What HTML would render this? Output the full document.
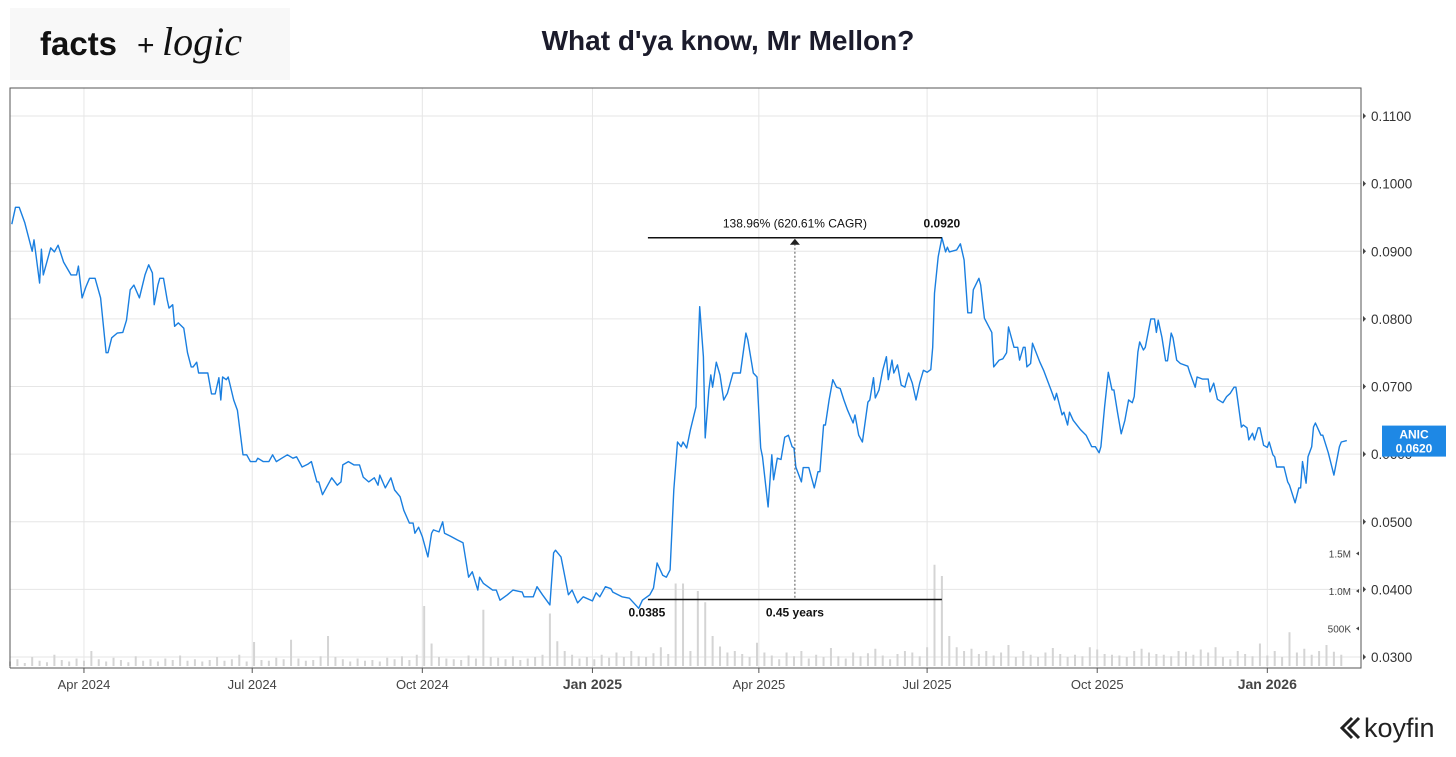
<!DOCTYPE html>
<html><head><meta charset="utf-8"><style>
body{margin:0;background:#fff;width:1456px;height:752px;overflow:hidden;font-family:"Liberation Sans",sans-serif;}
</style></head><body>
<svg id="chart" width="1456" height="752" xmlns="http://www.w3.org/2000/svg" font-family="Liberation Sans, sans-serif">
<rect x="10" y="8" width="280" height="72" fill="#f8f8f8"/>
<text x="40" y="55" font-family="Liberation Sans, sans-serif" font-weight="bold" font-size="33" fill="#111">facts</text>
<text x="137" y="55" font-family="Liberation Sans, sans-serif" font-size="30" fill="#111">+</text>
<text x="162" y="55" font-family="Liberation Serif, serif" font-style="italic" font-size="40" fill="#111">logic</text>
<text x="728" y="50" text-anchor="middle" font-weight="bold" font-size="28" fill="#1b1b2b">What d'ya know, Mr Mellon?</text>
<g id="grid"></g><g id="vol"></g><g id="price"></g><g id="annot"></g><g id="axes"></g>
<g>
<path d="M1352 718 l-10 10 l10 10 M1359 718 l-10 10 l10 10" stroke="#222" stroke-width="3" fill="none"/>
<text x="1364" y="737" font-size="27" fill="#222">koyfin</text></g>
</svg>
<script>
const days=[1,3,5,8,12,13,16,17,18,22,24,26,29,33,36,37,39,41,43,46,49,52,53,55,58,61,63,65,67,70,73,75,77,78,80,81,83,85,86,88,89,91,94,96,98,99,101,102,107,109,111,113,114,115,117,118,121,123,126,128,130,133,134,137,140,142,144,147,150,153,155,158,161,163,166,167,169,174,177,179,180,183,186,189,191,194,197,199,200,203,206,208,211,213,216,218,219,221,223,226,228,229,232,234,235,238,242,245,248,250,253,254,256,261,263,265,269,272,277,278,283,285,288,292,294,295,298,302,304,307,310,315,317,319,322,325,326,331,335,337,340,342,346,348,350,353,355,357,359,361,363,364,366,368,371,373,375,376,378,379,380,382,384,386,388,391,395,398,399,402,404,406,407,410,412,413,415,417,419,421,423,424,425,428,429,432,435,437,438,440,441,443,445,447,449,451,453,456,457,459,461,464,465,467,468,470,472,474,475,477,478,480,482,484,486,488,490,492,494,496,498,499,500,502,504,506,507,508,512,514,516,518,520,521,524,525,527,531,532,535,537,539,540,543,545,546,548,549,550,552,553,557,559,563,565,566,569,570,572,573,575,579,582,585,587,589,590,592,594,596,597,599,601,603,605,607,608,610,611,613,614,617,619,620,621,623,625,626,628,629,631,633,637,638,641,642,645,648,649,651,653,656,658,660,662,663,664,666,667,669,670,672,673,675,676,678,680,681,683,684,685,687,689,691,692,695,697,698,699,701,702,704,705,706,709,710,713,716,719,720,723];
const prices=[0.0940,0.0965,0.0965,0.0942,0.0900,0.0917,0.0853,0.0903,0.0865,0.0905,0.0899,0.0909,0.0884,0.0865,0.0865,0.0878,0.0831,0.0847,0.0860,0.0860,0.0831,0.0750,0.0750,0.0772,0.0779,0.0780,0.0798,0.0843,0.0850,0.0831,0.0865,0.0880,0.0868,0.0821,0.0850,0.0860,0.0860,0.0828,0.0816,0.0821,0.0789,0.0794,0.0786,0.0750,0.0729,0.0729,0.0736,0.0720,0.0720,0.0689,0.0689,0.0713,0.0680,0.0714,0.0710,0.0714,0.0680,0.0665,0.0599,0.0599,0.0589,0.0589,0.0594,0.0589,0.0589,0.0599,0.0589,0.0594,0.0599,0.0594,0.0596,0.0581,0.0585,0.0589,0.0559,0.0559,0.0540,0.0565,0.0554,0.0559,0.0584,0.0589,0.0584,0.0584,0.0566,0.0559,0.0565,0.0554,0.0569,0.0550,0.0565,0.0547,0.0537,0.0517,0.0498,0.0498,0.0483,0.0492,0.0478,0.0448,0.0483,0.0488,0.0485,0.0500,0.0483,0.0479,0.0473,0.0469,0.0418,0.0426,0.0399,0.0418,0.0409,0.0399,0.0399,0.0384,0.0392,0.0399,0.0396,0.0389,0.0389,0.0404,0.0392,0.0377,0.0454,0.0458,0.0448,0.0392,0.0399,0.0380,0.0389,0.0383,0.0395,0.0389,0.0404,0.0401,0.0396,0.0389,0.0387,0.0381,0.0372,0.0384,0.0392,0.0402,0.0439,0.0421,0.0418,0.0429,0.0547,0.0618,0.0611,0.0618,0.0609,0.0636,0.0670,0.0818,0.0744,0.0624,0.0695,0.0717,0.0699,0.0736,0.0717,0.0680,0.0690,0.0720,0.0720,0.0779,0.0769,0.0720,0.0714,0.0609,0.0596,0.0522,0.0599,0.0562,0.0594,0.0592,0.0625,0.0628,0.0611,0.0609,0.0581,0.0559,0.0580,0.0580,0.0550,0.0574,0.0574,0.0643,0.0643,0.0680,0.0710,0.0699,0.0697,0.0680,0.0665,0.0646,0.0658,0.0628,0.0618,0.0677,0.0680,0.0713,0.0683,0.0695,0.0724,0.0744,0.0710,0.0739,0.0720,0.0732,0.0702,0.0699,0.0720,0.0705,0.0680,0.0705,0.0724,0.0721,0.0725,0.0758,0.0838,0.0892,0.0920,0.0899,0.0906,0.0899,0.0902,0.0911,0.0887,0.0809,0.0809,0.0843,0.0860,0.0850,0.0801,0.0780,0.0729,0.0739,0.0741,0.0750,0.0788,0.0758,0.0758,0.0739,0.0758,0.0758,0.0729,0.0734,0.0764,0.0736,0.0724,0.0695,0.0680,0.0690,0.0658,0.0662,0.0643,0.0662,0.0650,0.0636,0.0628,0.0611,0.0611,0.0602,0.0611,0.0670,0.0721,0.0695,0.0695,0.0661,0.0630,0.0650,0.0680,0.0676,0.0685,0.0751,0.0766,0.0754,0.0758,0.0800,0.0800,0.0780,0.0798,0.0773,0.0738,0.0738,0.0779,0.0772,0.0739,0.0734,0.0730,0.0721,0.0699,0.0714,0.0711,0.0711,0.0692,0.0705,0.0681,0.0676,0.0685,0.0690,0.0699,0.0699,0.0680,0.0640,0.0643,0.0639,0.0621,0.0631,0.0621,0.0639,0.0639,0.0613,0.0610,0.0618,0.0599,0.0596,0.0581,0.0581,0.0581,0.0559,0.0554,0.0528,0.0550,0.0550,0.0589,0.0557,0.0596,0.0611,0.0640,0.0646,0.0628,0.0628,0.0602,0.0569,0.0611,0.0618,0.0620];
const volumes=[60,90,40,120,70,50,150,80,60,100,70,200,90,60,110,80,50,130,70,90,60,100,80,140,70,90,60,80,120,70,90,150,60,320,80,70,110,90,350,100,70,80,130,400,120,90,60,100,70,80,60,110,90,130,80,150,800,300,120,100,90,80,140,100,750,120,110,90,130,80,100,120,150,700,330,200,150,100,120,90,150,110,180,120,200,130,120,170,250,160,1100,1100,200,1000,850,400,260,180,200,160,120,310,180,140,90,180,130,200,100,150,120,240,130,100,180,130,170,230,140,90,160,200,180,130,250,1350,1200,400,250,200,230,160,200,140,180,280,120,200,150,120,180,240,160,120,150,130,250,220,160,150,140,120,200,230,180,160,150,130,200,190,150,220,180,250,120,90,200,160,130,300,140,200,120,450,180,230,150,200,280,190,150];
const volBinDays=4;
const priceTicks=[0.11,0.10,0.09,0.08,0.07,0.06,0.05,0.04,0.03];
const volTicks=[1500000,1000000,500000];
const volTickLabels=["1.5M","1.0M","500K"];
const xTickDays=[40,131,223,315,405,496,588,680];
const xTickLabels=["Apr 2024","Jul 2024","Oct 2024","Jan 2025","Apr 2025","Jul 2025","Oct 2025","Jan 2026"];
const lowVal=0.0385, lowDay=345, highVal=0.0920, highDay=504;
const lastVal=0.0620;

const L=10,R=1361,T=88,B=668;
const X=d=>10+d*1.849;
const Y=v=>657-(v-0.03)*6762.5;
const VY=v=>666-v/1e6*75;
const NS="http://www.w3.org/2000/svg";
function mk(tag,attrs,parent,txt){const e=document.createElementNS(NS,tag);for(const k in attrs)e.setAttribute(k,attrs[k]);if(txt!==undefined)e.textContent=txt;document.getElementById(parent).appendChild(e);return e;}

priceTicks.forEach(v=>{const e=mk('line',{x1:L,x2:R,y1:Y(v),y2:Y(v),stroke:'#e6e6e6'},'grid');

});
xTickDays.forEach(d=>{const e=mk('line',{x1:X(d),x2:X(d),y1:T,y2:B,stroke:'#e6e6e6'},'grid');

});

volumes.forEach((v,i)=>{const y=VY(v*1000);const e=mk('rect',{x:X(i*volBinDays)-1,y:y,width:2,height:666-y,fill:'#d4d4d4'},'vol');

});

const pts=days.map((d,i)=>X(d).toFixed(1)+','+Y(prices[i]).toFixed(1)).join(' ');
const pl=mk('polyline',{points:pts,fill:'none',stroke:'#1a7fe0','stroke-width':1.4,'stroke-linejoin':'round'},'price');



const xl=X(lowDay),xh=X(highDay),xm=(xl+xh)/2,yh=Y(highVal),yl=Y(lowVal);
let e;
e=mk('line',{x1:xl,x2:xh,y1:yh,y2:yh,stroke:'#111','stroke-width':1.5},'annot');


e=mk('line',{x1:xl,x2:xh,y1:yl,y2:yl,stroke:'#111','stroke-width':1.5},'annot');


e=mk('line',{x1:xm,x2:xm,y1:yh+6,y2:yl,stroke:'#555','stroke-dasharray':'2,2'},'annot');


e=mk('path',{d:`M${xm-5} ${yh+7} L${xm+5} ${yh+7} L${xm} ${yh+1} Z`,fill:'#222'},'annot');


e=mk('text',{x:xm,y:yh-10,'text-anchor':'middle','font-size':12,fill:'#111'},'annot','138.96% (620.61% CAGR)');


e=mk('text',{x:xh,y:yh-10,'text-anchor':'middle','font-size':12,'font-weight':'bold',fill:'#111'},'annot',highVal.toFixed(4));


e=mk('text',{x:xl-1,y:yl+17,'text-anchor':'middle','font-size':12,'font-weight':'bold',fill:'#111'},'annot',lowVal.toFixed(4));


e=mk('text',{x:xm,y:yl+17,'text-anchor':'middle','font-size':12,'font-weight':'bold',fill:'#111'},'annot','0.45 years');



e=mk('path',{d:`M${L} ${B} L${L} ${T} L${R} ${T} L${R} ${B} L${L} ${B}`,fill:'none',stroke:'#555'},'axes');


priceTicks.forEach(v=>{
 e=mk('path',{d:`M${R+2} ${Y(v)-3} L${R+5} ${Y(v)} L${R+2} ${Y(v)+3}Z`,fill:'#444'},'axes');
 
 
 e=mk('text',{x:R+10,y:Y(v)+5,'font-size':13.5,fill:'#333'},'axes',v.toFixed(4));
 
 
});
volTicks.forEach((v,i)=>{
 e=mk('text',{x:R-10,y:VY(v)+4,'text-anchor':'end','font-size':10,fill:'#444'},'axes',volTickLabels[i]);
 
 
 e=mk('path',{d:`M${R-2} ${VY(v)-2} L${R-5} ${VY(v)} L${R-2} ${VY(v)+2}Z`,fill:'#444'},'axes');
 
 
});
xTickDays.forEach((d,i)=>{
 const bold=xTickLabels[i].startsWith('Jan');
 e=mk('line',{x1:X(d),x2:X(d),y1:B,y2:B+5,stroke:'#555'},'axes');
 
 
 e=mk('text',{x:X(d),y:B+21,'text-anchor':'middle','font-size':bold?14:13,'font-weight':bold?'bold':'normal',fill:'#444'},'axes',xTickLabels[i]);
 
 
});
const by=Y(lastVal);
e=mk('rect',{x:1382,y:by-15,width:64,height:31,fill:'#1e88e5'},'axes');


e=mk('text',{x:1414,y:by-2,'text-anchor':'middle','font-size':12,'font-weight':'bold',fill:'#fff'},'axes','ANIC');


e=mk('text',{x:1414,y:by+12,'text-anchor':'middle','font-size':12,'font-weight':'bold',fill:'#fff'},'axes',lastVal.toFixed(4));


</script>
</body></html>
